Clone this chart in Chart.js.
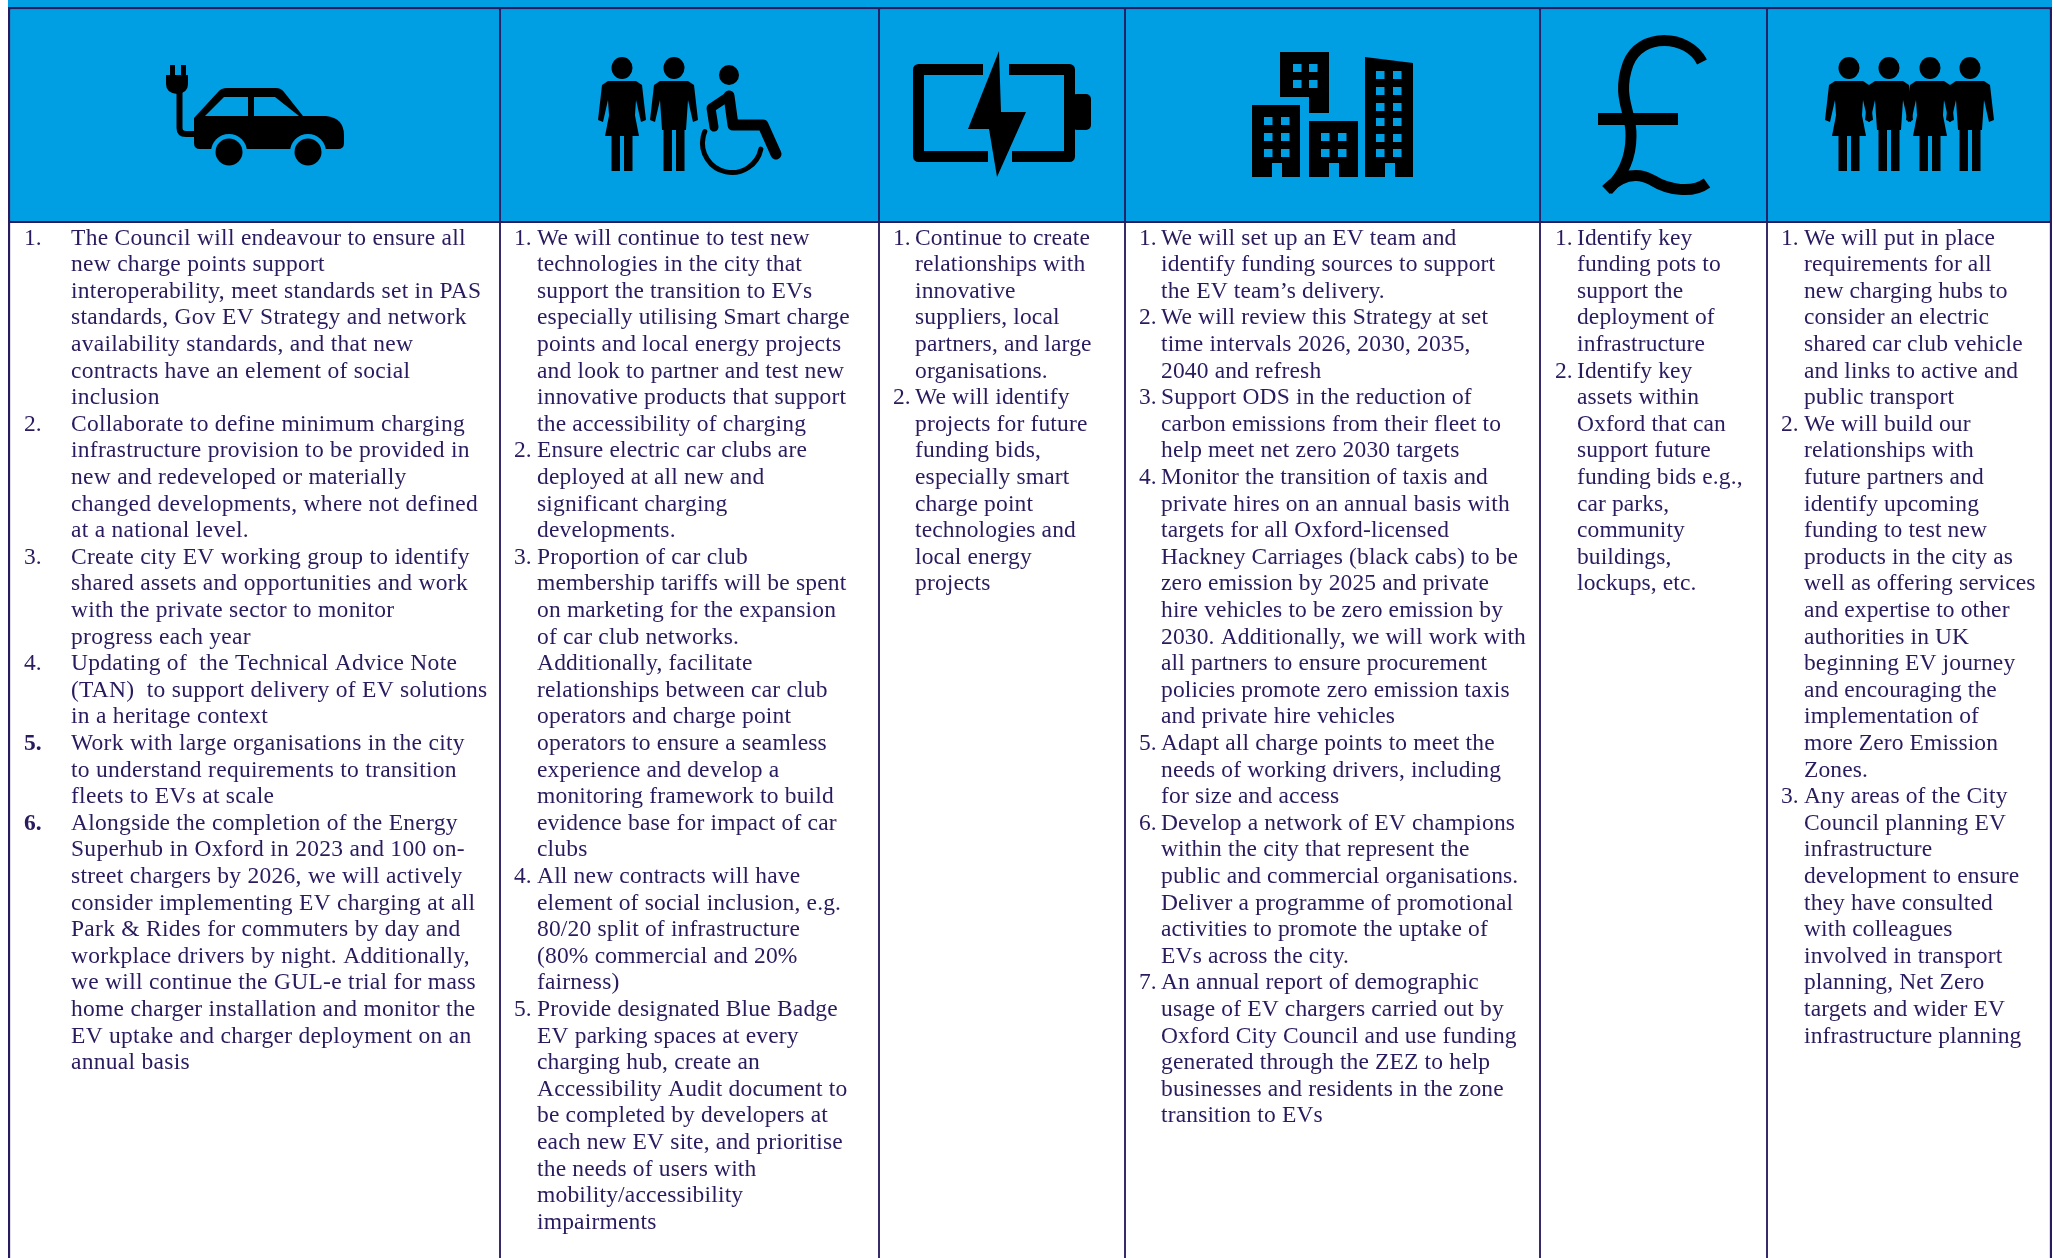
<!DOCTYPE html>
<html>
<head>
<meta charset="utf-8">
<title>EV strategy actions</title>
<style>
  html, body { margin: 0; padding: 0; background: #fff; }
  canvas { display: block; }
</style>
<script src="https://cdn.jsdelivr.net/npm/chart.js@4"></script>
</head>
<body>
<canvas id="tabla" width="2055" height="1258"></canvas>
<script>
// Column widths and row heights of the table
const columnNames = ['Vehicles', 'People', 'Charging', 'City', 'Funding', 'Partners'];
const columnWidths = [492, 379, 246, 415, 227, 285];
const rowHeights = [7, 215, 1036];

// Each column: list of numbered items, each item a list of wrapped lines
const col1Items = [
  ['The Council will endeavour to ensure all', 'new charge points support', 'interoperability, meet standards set in PAS', 'standards, Gov EV Strategy and network', 'availability standards, and that new', 'contracts have an element of social', 'inclusion'],
  ['Collaborate to define minimum charging', 'infrastructure provision to be provided in', 'new and redeveloped or materially', 'changed developments, where not defined', 'at a national level.'],
  ['Create city EV working group to identify', 'shared assets and opportunities and work', 'with the private sector to monitor', 'progress each year'],
  ['Updating of  the Technical Advice Note', '(TAN)  to support delivery of EV solutions', 'in a heritage context'],
  ['Work with large organisations in the city', 'to understand requirements to transition', 'fleets to EVs at scale'],
  ['Alongside the completion of the Energy', 'Superhub in Oxford in 2023 and 100 on-', 'street chargers by 2026, we will actively', 'consider implementing EV charging at all', 'Park & Rides for commuters by day and', 'workplace drivers by night. Additionally,', 'we will continue the GUL-e trial for mass', 'home charger installation and monitor the', 'EV uptake and charger deployment on an', 'annual basis']
];
const col2Items = [
  ['We will continue to test new', 'technologies in the city that', 'support the transition to EVs', 'especially utilising Smart charge', 'points and local energy projects', 'and look to partner and test new', 'innovative products that support', 'the accessibility of charging'],
  ['Ensure electric car clubs are', 'deployed at all new and', 'significant charging', 'developments.'],
  ['Proportion of car club', 'membership tariffs will be spent', 'on marketing for the expansion', 'of car club networks.', 'Additionally, facilitate', 'relationships between car club', 'operators and charge point', 'operators to ensure a seamless', 'experience and develop a', 'monitoring framework to build', 'evidence base for impact of car', 'clubs'],
  ['All new contracts will have', 'element of social inclusion, e.g.', '80/20 split of infrastructure', '(80% commercial and 20%', 'fairness)'],
  ['Provide designated Blue Badge', 'EV parking spaces at every', 'charging hub, create an', 'Accessibility Audit document to', 'be completed by developers at', 'each new EV site, and prioritise', 'the needs of users with', 'mobility/accessibility', 'impairments']
];
const col3Items = [
  ['Continue to create', 'relationships with', 'innovative', 'suppliers, local', 'partners, and large', 'organisations.'],
  ['We will identify', 'projects for future', 'funding bids,', 'especially smart', 'charge point', 'technologies and', 'local energy', 'projects']
];
const col4Items = [
  ['We will set up an EV team and', 'identify funding sources to support', 'the EV team\u2019s delivery.'],
  ['We will review this Strategy at set', 'time intervals 2026, 2030, 2035,', '2040 and refresh'],
  ['Support ODS in the reduction of', 'carbon emissions from their fleet to', 'help meet net zero 2030 targets'],
  ['Monitor the transition of taxis and', 'private hires on an annual basis with', 'targets for all Oxford-licensed', 'Hackney Carriages (black cabs) to be', 'zero emission by 2025 and private', 'hire vehicles to be zero emission by', '2030. Additionally, we will work with', 'all partners to ensure procurement', 'policies promote zero emission taxis', 'and private hire vehicles'],
  ['Adapt all charge points to meet the', 'needs of working drivers, including', 'for size and access'],
  ['Develop a network of EV champions', 'within the city that represent the', 'public and commercial organisations.', 'Deliver a programme of promotional', 'activities to promote the uptake of', 'EVs across the city.'],
  ['An annual report of demographic', 'usage of EV chargers carried out by', 'Oxford City Council and use funding', 'generated through the ZEZ to help', 'businesses and residents in the zone', 'transition to EVs']
];
const col5Items = [
  ['Identify key', 'funding pots to', 'support the', 'deployment of', 'infrastructure'],
  ['Identify key', 'assets within', 'Oxford that can', 'support future', 'funding bids e.g.,', 'car parks,', 'community', 'buildings,', 'lockups, etc.']
];
const col6Items = [
  ['We will put in place', 'requirements for all', 'new charging hubs to', 'consider an electric', 'shared car club vehicle', 'and links to active and', 'public transport'],
  ['We will build our', 'relationships with', 'future partners and', 'identify upcoming', 'funding to test new', 'products in the city as', 'well as offering services', 'and expertise to other', 'authorities in UK', 'beginning EV journey', 'and encouraging the', 'implementation of', 'more Zero Emission', 'Zones.'],
  ['Any areas of the City', 'Council planning EV', 'infrastructure', 'development to ensure', 'they have consulted', 'with colleagues', 'involved in transport', 'planning, Net Zero', 'targets and wider EV', 'infrastructure planning']
];
const allItems = [col1Items, col2Items, col3Items, col4Items, col5Items, col6Items];
// item numbers drawn bold in the first column
const boldNumbers = [[5, 6], [], [], [], [], []];
// offset of number and text from the column's left edge, letter spacing per column
const numberOffsets = [16, 14, 14, 14, 15, 14];
const textOffsets = [63, 37, 36, 36, 37, 37];
const columnSpacing = [0.28, 0.18, 0.15, 0.15, 0.1, 0.12];

const BLUE = '#009fe3';
const INK = '#2a1a5e';
const LINE_H = 26.6;
const FONT = '"Liberation Serif", serif';
const FONT_SIZE = 23.5;

// --- Icons (pictograms in the header row) ---
function poly(c, pts) {
  c.beginPath();
  pts.forEach((p, i) => i ? c.lineTo(p[0], p[1]) : c.moveTo(p[0], p[1]));
  c.closePath();
  c.fill();
}
function circle(c, x, y, r) {
  c.beginPath();
  c.arc(x, y, r, 0, Math.PI * 2);
  c.fill();
}
function person(c, cx, woman) {
  c.fillStyle = '#000';
  c.beginPath();
  c.ellipse(cx, 68, 10.5, 11, 0, 0, Math.PI * 2);
  c.fill();
  // arms and shoulders
  poly(c, [[cx - 14, 81], [cx + 14, 81], [cx + 20, 85], [cx + 24, 120], [cx + 19, 122], [cx + 14, 100], [cx + 12, 130],
    [cx - 12, 130], [cx - 14, 100], [cx - 19, 122], [cx - 24, 120], [cx - 20, 85]]);
  if (woman) poly(c, [[cx - 10, 100], [cx + 10, 100], [cx + 17, 136], [cx - 17, 136]]);
  c.fillRect(cx - 10.5, 125, 8.5, 46);
  c.fillRect(cx + 2, 125, 8.5, 46);
}
function drawCar(c) {
  c.fillStyle = '#000';
  c.strokeStyle = '#000';
  c.fillRect(170, 65, 5, 14);
  c.fillRect(181, 65, 5, 14);
  c.beginPath();
  c.moveTo(166, 75); c.lineTo(188, 75); c.lineTo(188, 84);
  c.quadraticCurveTo(188, 93, 177, 94);
  c.quadraticCurveTo(166, 93, 166, 84);
  c.closePath(); c.fill();
  c.lineWidth = 6;
  c.beginPath();
  c.moveTo(179.5, 90); c.lineTo(179.5, 128);
  c.quadraticCurveTo(179.5, 134, 186, 134); c.lineTo(198, 134);
  c.stroke();
  c.beginPath();
  c.moveTo(194, 118); c.lineTo(218, 92); c.quadraticCurveTo(221, 88, 227, 88);
  c.lineTo(276, 88); c.quadraticCurveTo(281, 88, 284, 92); c.lineTo(303, 116);
  c.lineTo(326, 116); c.quadraticCurveTo(344, 118, 344, 135); c.lineTo(344, 143);
  c.quadraticCurveTo(344, 149, 338, 149); c.lineTo(200, 149);
  c.quadraticCurveTo(194, 149, 194, 143);
  c.closePath(); c.fill();
  c.fillStyle = BLUE;
  poly(c, [[205, 116], [248, 116], [248, 97], [224, 97]]);
  poly(c, [[254, 97], [275, 97], [299, 116], [254, 116]]);
  circle(c, 229, 152, 18);
  circle(c, 308, 152, 18);
  c.fillStyle = '#000';
  circle(c, 229, 152, 13.5);
  circle(c, 308, 152, 13.5);
}
function drawWheelchair(c) {
  c.fillStyle = '#000';
  c.strokeStyle = '#000';
  circle(c, 729, 75, 10);
  c.lineCap = 'round';
  c.lineJoin = 'round';
  c.lineWidth = 11;
  c.beginPath();
  c.moveTo(729, 96); c.lineTo(733, 125); c.lineTo(763, 125); c.lineTo(776, 154);
  c.stroke();
  c.lineWidth = 9;
  c.beginPath();
  c.moveTo(729, 96); c.lineTo(711, 108); c.lineTo(714, 127);
  c.stroke();
  c.lineWidth = 5;
  c.beginPath();
  c.arc(732, 143, 29.5, 12 * Math.PI / 180, 203 * Math.PI / 180);
  c.stroke();
  c.lineCap = 'butt';
  c.lineJoin = 'miter';
}
function drawBattery(c) {
  c.fillStyle = '#000';
  c.strokeStyle = '#000';
  c.lineWidth = 11;
  c.lineJoin = 'round';
  c.beginPath();
  c.moveTo(983, 69.5); c.lineTo(918.5, 69.5); c.lineTo(918.5, 156.5); c.lineTo(988, 156.5);
  c.stroke();
  c.beginPath();
  c.moveTo(1009, 69.5); c.lineTo(1069.5, 69.5); c.lineTo(1069.5, 156.5); c.lineTo(1012, 156.5);
  c.stroke();
  c.lineJoin = 'miter';
  c.beginPath();
  c.roundRect(1072, 94, 19, 36, 5);
  c.fill();
  poly(c, [[999, 51], [968, 129], [989, 129], [997, 177], [1026, 112], [1001, 112]]);
}
function drawBuildings(c) {
  c.fillStyle = '#000';
  poly(c, [[1280, 52], [1329, 52], [1329, 113], [1309, 113], [1309, 97], [1280, 97]]);
  c.fillRect(1252, 105, 48, 72);
  c.fillRect(1309, 121, 49, 56);
  poly(c, [[1365, 57], [1413, 63], [1413, 177], [1365, 177]]);
  c.fillStyle = BLUE;
  const win = (xs, ys) => xs.forEach((x) => ys.forEach((y) => c.fillRect(x, y, 8.5, 8)));
  win([1293, 1309], [64, 80]);
  win([1264, 1281], [117, 133, 149]);
  win([1321, 1338], [133, 149]);
  win([1376, 1393], [71, 87, 103, 118, 134, 149]);
  [1272, 1329, 1385].forEach((x) => c.fillRect(x, 163, 10, 14));
}
function drawPound(c) {
  c.fillStyle = '#000';
  c.strokeStyle = '#000';
  c.lineWidth = 11;
  c.beginPath();
  c.moveTo(1702, 62);
  c.bezierCurveTo(1688, 34, 1640, 32, 1628, 64);
  c.bezierCurveTo(1616, 98, 1632, 112, 1631, 136);
  c.bezierCurveTo(1631, 160, 1622, 176, 1608, 190);
  c.stroke();
  c.beginPath();
  c.moveTo(1606, 190);
  c.bezierCurveTo(1622, 174, 1638, 172, 1652, 180);
  c.bezierCurveTo(1668, 190, 1692, 194, 1707, 183);
  c.stroke();
  c.fillRect(1598, 113, 80, 12);
}
function drawIcons(c) {
  c.save();
  drawCar(c);
  person(c, 622, true);
  person(c, 674, false);
  drawWheelchair(c);
  drawBattery(c);
  drawBuildings(c);
  drawPound(c);
  person(c, 1849, true);
  person(c, 1889, false);
  person(c, 1930, true);
  person(c, 1970, false);
  c.restore();
}

// Plugin: cell text and pictograms
const tablaPlugin = {
  id: 'tabla',
  afterDatasetsDraw(chart) {
    const c = chart.ctx;
    const { x, yBody } = chart.scales;
    drawIcons(c);
    c.save();
    c.fillStyle = INK;
    c.textBaseline = 'alphabetic';
    let acum = 0;
    allItems.forEach((items, col) => {
      const left = x.getPixelForValue(acum);
      let row = 0;
      items.forEach((lines, n) => {
        const base = yBody.top + 22.5 + row * LINE_H;
        c.letterSpacing = '0px';
        c.font = (boldNumbers[col].includes(n + 1) ? 'bold ' : '') + FONT_SIZE + 'px ' + FONT;
        c.fillText((n + 1) + '.', left + numberOffsets[col], base);
        c.font = FONT_SIZE + 'px ' + FONT;
        c.letterSpacing = columnSpacing[col] + 'px';
        lines.forEach((line) => {
          c.fillText(line, left + textOffsets[col], yBody.top + 22.5 + row * LINE_H);
          row++;
        });
      });
      acum += columnWidths[col];
    });
    c.restore();
  }
};

const total = columnWidths.reduce((a, b) => a + b, 0);
const cellBorder = (i) => ({
  left: i === 0 ? 2.5 : 1.25,
  right: i === columnWidths.length - 1 ? 2.5 : 1.25,
  top: 2.5,
  bottom: 0
});
const headDatasets = columnWidths.map((w, i) => ({
  label: columnNames[i] + ' icon',
  data: [w],
  yAxisID: 'yHead',
  backgroundColor: BLUE,
  borderColor: INK,
  borderWidth: { ...cellBorder(i), bottom: 1.25 },
  borderSkipped: false
}));
const bodyDatasets = columnWidths.map((w, i) => ({
  label: columnNames[i],
  data: [w],
  yAxisID: 'yBody',
  backgroundColor: '#ffffff',
  borderColor: INK,
  borderWidth: { ...cellBorder(i), top: 1.25 },
  borderSkipped: false
}));
const topDataset = {
  label: 'Band',
  data: [total],
  yAxisID: 'yTop',
  backgroundColor: BLUE,
  borderWidth: 0
};

const ctx = document.getElementById('tabla').getContext('2d');
new Chart(ctx, {
  type: 'bar',
  plugins: [tablaPlugin],
  data: { datasets: [topDataset, ...headDatasets, ...bodyDatasets] },
  options: {
    indexAxis: 'y',
    responsive: false,
    animation: false,
    layout: { padding: { left: 8, right: 3, top: 0, bottom: 0 } },
    datasets: { bar: { barPercentage: 1, categoryPercentage: 1, grouped: false } },
    plugins: { legend: { display: false }, tooltip: { enabled: false } },
    scales: {
      x: { type: 'linear', stacked: true, min: 0, max: total, display: false },
      yTop: { type: 'category', labels: ['band'], stacked: true, display: false, position: 'left', stack: 'filas', stackWeight: rowHeights[0], weight: 3 },
      yHead: { type: 'category', labels: ['icons'], stacked: true, display: false, position: 'left', stack: 'filas', stackWeight: rowHeights[1], weight: 2 },
      yBody: { type: 'category', labels: ['actions'], stacked: true, display: false, position: 'left', stack: 'filas', stackWeight: rowHeights[2], weight: 1 }
    }
  }
});
</script>
</body>
</html>
